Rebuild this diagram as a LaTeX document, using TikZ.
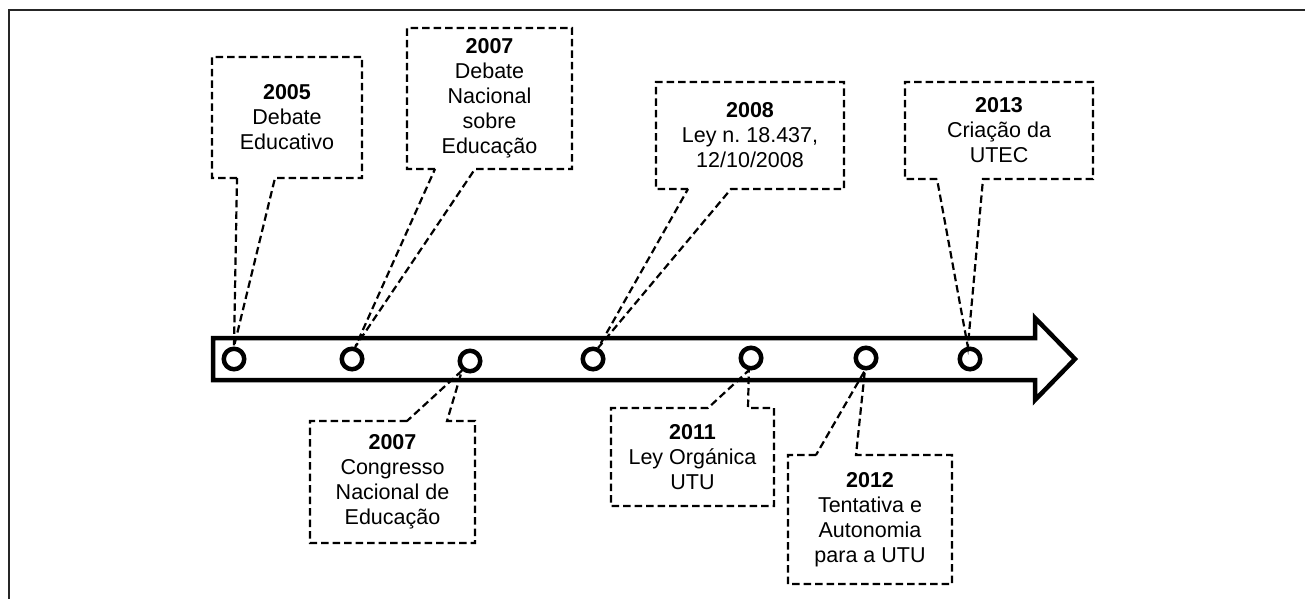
\documentclass[tikz,border=0pt]{standalone}
\usepackage{fontspec}
\setmainfont{Liberation Sans}
\begin{document}
\begin{tikzpicture}[x=1pt,y=-1pt,
  txt/.style={font=\fontsize{21.5}{25}\selectfont, align=center, inner sep=0pt, outer sep=0pt},
  ev/.style={circle, draw, line width=4.5pt, minimum size=20.5pt, inner sep=0pt, fill=white},
  dsh/.style={dash pattern=on 7.5pt off 4pt, line width=2.2pt, line join=miter}]
\useasboundingbox (0,0) rectangle (1305,599);
% frame
\draw[line width=2pt, black!85] (9,599) -- (9,10) -- (1305,10);
% timeline arrow
\draw[line width=4.5pt, line join=miter, fill=white] (213,338) -- (1035,338) -- (1035,318) -- (1075,359) -- (1035,400) -- (1035,380) -- (213,380) -- cycle;
% events
\node[ev] (c1) at (234,359) {};
\node[ev] (c2) at (352,359) {};
\node[ev] (c3) at (470,361) {};
\node[ev] (c4) at (593,359) {};
\node[ev] (c5) at (751,358) {};
\node[ev] (c6) at (866,358) {};
\node[ev] (c7) at (970,359) {};
% callout texts
\node[txt, minimum width=150pt, minimum height=121pt] (b1) at (287,117.5) {\textbf{2005}\\Debate\\Educativo};
\node[txt, minimum width=165pt, minimum height=141pt] (b2) at (489.5,98.5) {\textbf{2007}\\Debate\\Nacional\\sobre\\Educação};
\node[txt, minimum width=165pt, minimum height=122pt] (b3) at (392.5,482) {\textbf{2007}\\Congresso\\Nacional de\\Educação};
\node[txt, minimum width=188pt, minimum height=107pt] (b4) at (750,135.5) {\textbf{2008}\\Ley n.\ 18.437,\\12/10/2008};
\node[txt, minimum width=188pt, minimum height=97pt] (b5) at (999,130.5) {\textbf{2013}\\Criação da\\UTEC};
\node[txt, minimum width=163pt, minimum height=98pt] (b6) at (692.5,457) {\textbf{2011}\\Ley Orgánica\\UTU};
\node[txt, minimum width=164pt, minimum height=129pt] (b7) at (870,519.5) {\textbf{2012}\\Tentativa e\\Autonomia\\para a UTU};
% callout outlines
\draw[dsh] ([xshift=25pt]b1.south west) -- (b1.south west) -- (b1.north west) -- (b1.north east) -- (b1.south east) -- ([xshift=63pt]b1.south west) -- (c1.north) -- cycle;
\draw[dsh] ([xshift=28pt]b2.south west) -- (b2.south west) -- (b2.north west) -- (b2.north east) -- (b2.south east) -- ([xshift=68pt]b2.south west) -- (c2.75) -- cycle;
\draw[dsh] ([xshift=97pt]b3.north west) -- (b3.north west) -- (b3.south west) -- (b3.south east) -- (b3.north east) -- ([xshift=137pt]b3.north west) -- (c3.230) -- cycle;
\draw[dsh] ([xshift=32pt]b4.south west) -- (b4.south west) -- (b4.north west) -- (b4.north east) -- (b4.south east) -- ([xshift=75pt]b4.south west) -- (c4.65) -- cycle;
\draw[dsh] ([xshift=32pt]b5.south west) -- (b5.south west) -- (b5.north west) -- (b5.north east) -- (b5.south east) -- ([xshift=78pt]b5.south west) -- (c7.100) -- cycle;
\draw[dsh] ([xshift=97pt]b6.north west) -- (b6.north west) -- (b6.south west) -- (b6.south east) -- (b6.north east) -- ([xshift=137pt]b6.north west) -- (c5.260) -- cycle;
\draw[dsh] ([xshift=28pt]b7.north west) -- (b7.north west) -- (b7.south west) -- (b7.south east) -- (b7.north east) -- ([xshift=68pt]b7.north west) -- (c6.265) -- cycle;
\end{tikzpicture}
\end{document}
